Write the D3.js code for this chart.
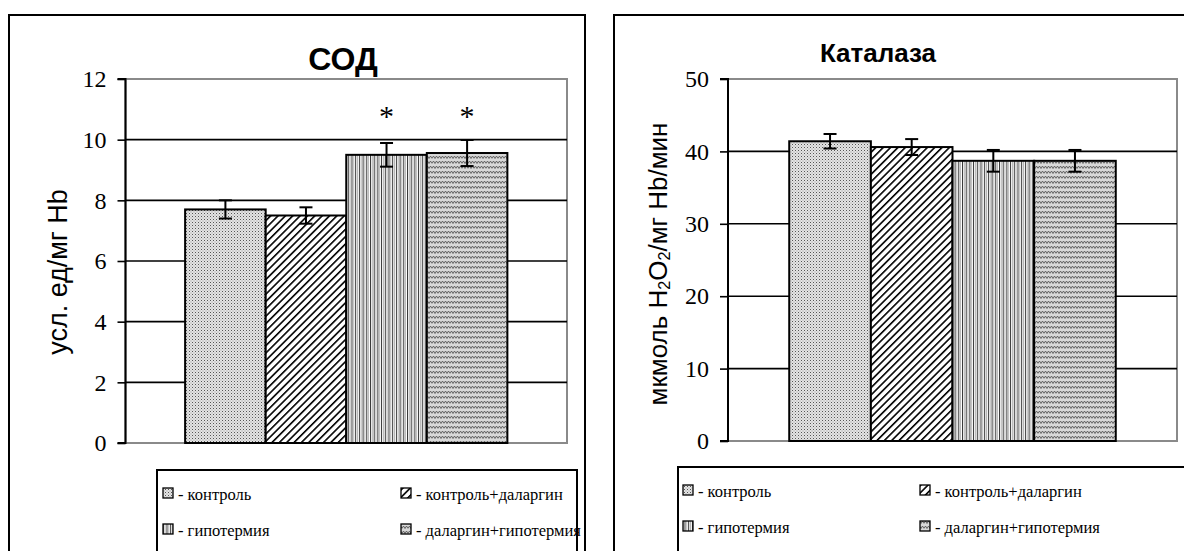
<!DOCTYPE html>
<html>
<head>
<meta charset="utf-8">
<script src="https://cdn.jsdelivr.net/npm/d3@7"></script>
<style>
  html, body { margin: 0; padding: 0; background: #fff; }
  svg { display: block; }
  .serif { font-family: "Liberation Serif", "Times New Roman", "DejaVu Serif", serif; }
  .sans { font-family: "Liberation Sans", Arial, "DejaVu Sans", sans-serif; }
</style>
</head>
<body>
<svg id="chart" width="1184" height="551"></svg>
<script>
// ---------- data ----------
const groups = ["контроль", "контроль+даларгин", "гипотермия", "даларгин+гипотермия"];
const sodValues = [7.7, 7.5, 9.5, 9.56];
const sodErrors = [0.3, 0.27, 0.39, 0.43];
const sodMarks = ["", "", "*", "*"];
const sodTicks = [0, 2, 4, 6, 8, 10, 12];
const catValues = [41.4, 40.6, 38.7, 38.7];
const catErrors = [1.0, 1.1, 1.5, 1.5];
const catMarks = ["", "", "", ""];
const catTicks = [0, 10, 20, 30, 40, 50];
const patternIds = ["pDots", "pDiag", "pVert", "pWave"];

const svg = d3.select("#chart");
const defs = svg.append("defs");

// ---------- patterns ----------
const p1 = defs.append("pattern").attr("id", "pDots").attr("patternUnits", "userSpaceOnUse")
  .attr("width", 3).attr("height", 3);
p1.append("rect").attr("width", 3).attr("height", 3).attr("fill", "#e4e4e4");
p1.append("rect").attr("x", 0).attr("y", 0).attr("width", 1).attr("height", 1).attr("fill", "#555");
p1.append("rect").attr("x", 1.5).attr("y", 1.5).attr("width", 1).attr("height", 1).attr("fill", "#999");

const p2 = defs.append("pattern").attr("id", "pDiag").attr("patternUnits", "userSpaceOnUse")
  .attr("width", 5.2).attr("height", 5.2).attr("patternTransform", "rotate(45)");
p2.append("rect").attr("width", 5.2).attr("height", 5.2).attr("fill", "#fff");
p2.append("rect").attr("x", 0).attr("y", 0).attr("width", 1.6).attr("height", 5.2).attr("fill", "#000");

const p3 = defs.append("pattern").attr("id", "pVert").attr("patternUnits", "userSpaceOnUse")
  .attr("width", 3.7).attr("height", 4);
p3.append("rect").attr("width", 3.7).attr("height", 4).attr("fill", "#fff");
p3.append("rect").attr("x", 0).attr("width", 1).attr("height", 4).attr("fill", "#333");
p3.append("rect").attr("x", 1.9).attr("width", 0.8).attr("height", 4).attr("fill", "#aaa");

const p4 = defs.append("pattern").attr("id", "pWave").attr("patternUnits", "userSpaceOnUse")
  .attr("width", 6).attr("height", 5);
p4.append("rect").attr("width", 6).attr("height", 5).attr("fill", "#d8d8d8");
p4.append("path").attr("d", "M0,3.5 L1.5,1 L3,3.5 L4.5,1 L6,3.5").attr("fill", "none")
  .attr("stroke", "#555").attr("stroke-width", 0.9);

function drawChart(cfg) {
  const g = svg.append("g");
  // panel border
  g.append("rect").attr("x", cfg.panel[0]).attr("y", cfg.panel[1])
    .attr("width", cfg.panel[2]).attr("height", cfg.panel[3])
    .attr("fill", "none").attr("stroke", "#000").attr("stroke-width", 2);

  const x = d3.scaleBand().domain(groups).range([cfg.plot.left, cfg.plot.right])
    .paddingInner(0).paddingOuter(cfg.outerPad);
  const y = d3.scaleLinear().domain([0, cfg.ticks[cfg.ticks.length - 1]])
    .range([cfg.plot.bottom, cfg.plot.top]);

  // plot area border (grey)
  g.append("rect").attr("x", cfg.plot.left).attr("y", cfg.plot.top)
    .attr("width", cfg.plot.right - cfg.plot.left).attr("height", cfg.plot.bottom - cfg.plot.top)
    .attr("fill", "#fff").attr("stroke", "#8a8a8a").attr("stroke-width", 2);

  // gridlines
  g.selectAll(".grid").data(cfg.ticks.slice(1, -1)).enter().append("line")
    .attr("x1", cfg.plot.left).attr("x2", cfg.plot.right)
    .attr("y1", d => y(d)).attr("y2", d => y(d))
    .attr("stroke", "#000").attr("stroke-width", 1.6);

  // y axis
  const axis = d3.axisLeft(y).tickValues(cfg.ticks).tickSize(8).tickPadding(11)
    .tickFormat(d3.format("d"));
  const ag = g.append("g").attr("transform", `translate(${cfg.plot.left},0)`).call(axis);
  ag.attr("font-family", null).attr("font-size", null).attr("class", "serif");
  ag.select(".domain").attr("stroke", "#000").attr("stroke-width", 2)
    .attr("d", `M-8,${cfg.plot.top}H0V${cfg.plot.bottom}H-8`);
  ag.selectAll(".tick line").attr("stroke", "#000").attr("stroke-width", 1.6);
  ag.selectAll(".tick text").attr("class", "serif").attr("font-size", 24)
    .style("font-size", "24px").attr("fill", "#000");

  // bars
  g.selectAll(".bar").data(cfg.values).enter().append("rect")
    .attr("x", (d, i) => x(groups[i]))
    .attr("y", d => y(d))
    .attr("width", x.bandwidth())
    .attr("height", d => y(0) - y(d))
    .attr("fill", (d, i) => `url(#${patternIds[i]})`)
    .attr("stroke", "#000").attr("stroke-width", 2);

  // error bars
  const cx = i => x(groups[i]) + x.bandwidth() / 2;
  const eb = g.selectAll(".err").data(cfg.values).enter().append("g");
  eb.append("line").attr("x1", (d, i) => cx(i)).attr("x2", (d, i) => cx(i))
    .attr("y1", (d, i) => y(d + cfg.errors[i])).attr("y2", (d, i) => y(d - cfg.errors[i]))
    .attr("stroke", "#000").attr("stroke-width", 2);
  [1, -1].forEach(s => {
    eb.append("line").attr("x1", (d, i) => cx(i) - 6.5).attr("x2", (d, i) => cx(i) + 6.5)
      .attr("y1", (d, i) => y(d + s * cfg.errors[i])).attr("y2", (d, i) => y(d + s * cfg.errors[i]))
      .attr("stroke", "#000").attr("stroke-width", 2);
  });

  // significance marks
  g.selectAll(".mark").data(cfg.marks).enter().append("text")
    .attr("class", "serif")
    .attr("x", (d, i) => cx(i)).attr("y", cfg.markY)
    .attr("text-anchor", "middle").style("font-size", "30px")
    .text(d => d);

  // title
  g.append("text").attr("class", "sans").attr("x", cfg.titleX).attr("y", cfg.titleY)
    .attr("text-anchor", "middle")
    .style("font-weight", "bold").style("font-size", cfg.titleSize + "px")
    .text(cfg.title);

  // y label
  const yl = g.append("text").attr("class", "sans")
    .attr("transform", `translate(${cfg.ylabelX},${cfg.ylabelY}) rotate(-90)`)
    .attr("text-anchor", "middle").style("font-size", cfg.ylabelSize + "px");
  cfg.ylabel.forEach(part => {
    const t = yl.append("tspan").text(part.t);
    if (part.sub) t.style("font-size", (cfg.ylabelSize * 0.62) + "px").attr("dy", 3);
    if (part.up) t.attr("dy", -3);
  });

  // legend
  const L = cfg.legend;
  g.append("rect").attr("x", L.x).attr("y", L.y).attr("width", L.w).attr("height", L.h)
    .attr("fill", "#fff").attr("stroke", "#000").attr("stroke-width", 2);
  groups.forEach((name, i) => {
    const col = i % 2, row = Math.floor(i / 2);
    const sx = L.x + L.colX[col];
    const by = L.y + L.rowY[row];
    g.append("rect").attr("x", sx).attr("y", by - 12).attr("width", 10).attr("height", 10)
      .attr("fill", `url(#${patternIds[i]})`).attr("stroke", "#000").attr("stroke-width", 1.3);
    g.append("text").attr("class", "serif").attr("x", sx + 15).attr("y", by)
      .style("font-size", "16.5px").text("- " + name);
  });
}

drawChart({
  panel: [9, 15, 576, 560],
  plot: { left: 125.5, right: 567, top: 79, bottom: 443 },
  outerPad: 0.74,
  ticks: sodTicks, values: sodValues, errors: sodErrors, marks: sodMarks,
  markY: 126,
  title: "СОД", titleX: 343, titleY: 70, titleSize: 32,
  ylabel: [{ t: "усл. ед/мг Hb" }], ylabelX: 67, ylabelY: 272, ylabelSize: 27,
  legend: { x: 157, y: 470, w: 420, h: 100, colX: [6, 244], rowY: [30, 66] }
});

drawChart({
  panel: [614, 15, 590, 560],
  plot: { left: 728, right: 1177, top: 79, bottom: 441 },
  outerPad: 0.75,
  ticks: catTicks, values: catValues, errors: catErrors, marks: catMarks,
  markY: 0,
  title: "Каталаза", titleX: 878, titleY: 62, titleSize: 26,
  ylabel: [{ t: "мкмоль H" }, { t: "2", sub: true }, { t: "O", up: true }, { t: "2", sub: true },
           { t: "/мг Hb/мин", up: true }],
  ylabelX: 667, ylabelY: 264, ylabelSize: 26,
  legend: { x: 678, y: 467, w: 540, h: 100, colX: [5, 242], rowY: [30, 66] }
});
</script>
</body>
</html>
